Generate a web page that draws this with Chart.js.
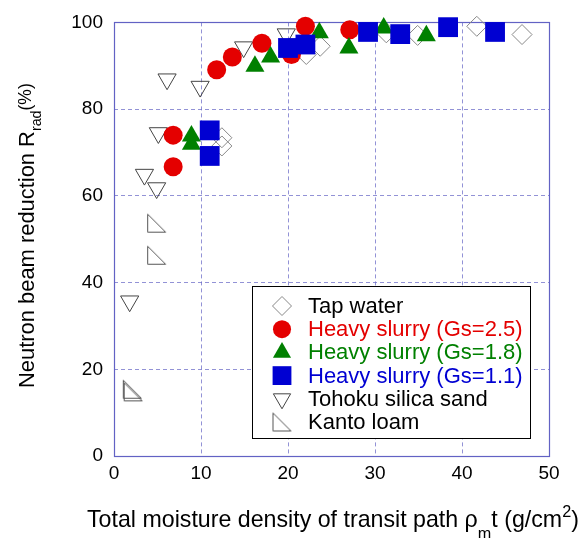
<!DOCTYPE html>
<html>
<head>
<meta charset="utf-8">
<script src="https://cdn.jsdelivr.net/npm/chart.js@4/dist/chart.umd.min.js"></script>
<style>
  body { margin: 0; background: #fff; }
  #wrap { width: 581px; height: 538px; }
</style>
</head>
<body>
<div id="wrap"><canvas id="rChart" width="581" height="538"></canvas></div>
<script>
// ===== Data =====
const seriesNames = ['Tap water', 'Heavy slurry (Gs=2.5)', 'Heavy slurry (Gs=1.8)', 'Heavy slurry (Gs=1.1)', 'Tohoku silica sand', 'Kanto loam'];

const tapX = [12.4, 12.4, 22.1, 23.7, 31.3, 34.9, 41.7, 46.9];
const tapY = [73.4, 71.5, 92.6, 94.5, 97.6, 97.0, 99.1, 97.2];

const gs25X = [6.8, 6.8, 11.8, 13.6, 17.0, 20.4, 22.0, 27.1];
const gs25Y = [74.0, 66.7, 89.1, 92.0, 95.2, 92.6, 99.1, 98.3];

const gs18X = [8.9, 8.9, 16.2, 18.0, 23.6, 27.0, 31.0, 35.9];
const gs18Y = [73.8, 71.9, 89.9, 92.0, 97.6, 94.1, 98.7, 96.9];

const gs11X = [11.0, 11.0, 20.0, 22.0, 29.2, 32.9, 38.4, 43.8];
const gs11Y = [75.1, 69.2, 94.1, 94.9, 97.8, 97.3, 98.9, 97.8];

const tohokuX = [1.8, 3.5, 4.9, 5.1, 6.1, 9.9, 14.9, 19.8];
const tohokuY = [35.7, 64.9, 61.8, 74.5, 86.9, 85.2, 94.3, 97.3];

const kantoX = [4.9, 4.9, 2.1, 2.2];
const kantoY = [53.7, 46.3, 15.4, 14.8];

const xTicks = [0, 10, 20, 30, 40, 50];
const yTicks = [0, 20, 40, 60, 80, 100];

const toPts = (xs, ys) => xs.map((x, i) => ({x: x, y: ys[i]}));

// right-angle triangle marker for Kanto loam
function rightTriangle(color){
    const c = document.createElement('canvas');
    c.width = 21; c.height = 21;
    const g = c.getContext('2d');
    g.strokeStyle = color;
    g.lineWidth = 1;
    g.beginPath();
    g.moveTo(1.5, 1.5); g.lineTo(1.5, 19.5); g.lineTo(19.5, 19.5); g.closePath();
    g.stroke();
    return c;
}

const RED = 'rgb(228,0,0)', GREEN = 'rgb(0,128,0)', BLUE = 'rgb(0,0,210)';

const datasets = [
    {label: seriesNames[0], data: toPts(tapX, tapY), pointStyle: 'rectRot', pointRadius: 10,
     backgroundColor: 'rgba(255,255,255,0)', borderColor: '#888', borderWidth: 1, order: 6, textColor: '#000'},
    {label: seriesNames[1], data: toPts(gs25X, gs25Y), pointStyle: 'circle', pointRadius: 9.5,
     backgroundColor: RED, borderColor: RED, borderWidth: 0, order: 3, textColor: RED},
    {label: seriesNames[2], data: toPts(gs18X, gs18Y), pointStyle: 'triangle', pointRadius: 11,
     backgroundColor: GREEN, borderColor: GREEN, borderWidth: 0, order: 2, textColor: GREEN},
    {label: seriesNames[3], data: toPts(gs11X, gs11Y), pointStyle: 'rect', pointRadius: 14,
     backgroundColor: BLUE, borderColor: BLUE, borderWidth: 0, order: 1, textColor: BLUE},
    {label: seriesNames[4], data: toPts(tohokuX, tohokuY), pointStyle: 'triangle', pointRotation: 180, pointRadius: 10.5,
     backgroundColor: 'rgba(255,255,255,0)', borderColor: '#444', borderWidth: 1, order: 5, textColor: '#000'},
    {label: seriesNames[5], data: toPts(kantoX, kantoY), pointStyle: rightTriangle('#555'), pointRadius: 10,
     backgroundColor: 'rgba(255,255,255,0)', borderColor: '#555', borderWidth: 1, order: 4, textColor: '#000'}
];
datasets.forEach(d => { d.showLine = false; d.clip = false; d.pointHoverRadius = d.pointRadius; });

// ===== Frame, legend and axis titles =====
const decor = {
    id: 'decor',
    beforeDatasetsDraw(chart){
        const a = chart.chartArea, ctx = chart.ctx;
        ctx.save();
        ctx.strokeStyle = '#6262c4';
        ctx.lineWidth = 1.2;
        ctx.strokeRect(Math.round(a.left) + 0.5, Math.round(a.top) + 0.5,
                       Math.round(a.right - a.left), Math.round(a.bottom - a.top));
        ctx.restore();
    },
    afterDraw(chart){
        const ctx = chart.ctx;
        ctx.save();

        // legend box
        const bx = 252, by = 286, bw = 278, bh = 152;
        ctx.fillStyle = '#fff';
        ctx.fillRect(bx, by, bw, bh);
        ctx.strokeStyle = '#000';
        ctx.lineWidth = 1;
        ctx.strokeRect(bx + 0.5, by + 0.5, bw, bh);
        ctx.font = '22px "Liberation Sans", Arial, sans-serif';
        ctx.textBaseline = 'middle';
        chart.data.datasets.forEach((d, i) => {
            const y = 306 + i * 23.2;
            ctx.fillStyle = d.backgroundColor;
            ctx.strokeStyle = d.borderColor;
            ctx.lineWidth = d.borderWidth;
            Chart.helpers.drawPoint(ctx, {
                pointStyle: d.pointStyle, rotation: d.pointRotation || 0,
                radius: d.pointRadius * 0.95, borderWidth: d.borderWidth
            }, 282, y);
            ctx.fillStyle = d.textColor;
            ctx.fillText(d.label, 308, y + 1);
        });

        // x title with sub/superscript
        const fam = '"Liberation Sans", Arial, sans-serif';
        const drawParts = (parts, fs, x0, y0) => {
            let x = x0;
            parts.forEach(p => {
                ctx.font = (fs * p.s) + 'px ' + fam;
                ctx.fillText(p.t, x, y0 + p.dy * fs);
                x += ctx.measureText(p.t).width;
            });
            return x - x0;
        };
        const measureParts = (parts, fs) => parts.reduce((w, p) => {
            ctx.font = (fs * p.s) + 'px ' + fam;
            return w + ctx.measureText(p.t).width;
        }, 0);

        ctx.fillStyle = '#000';
        ctx.textBaseline = 'alphabetic';
        const xParts = [
            {t: 'Total moisture density of transit path \u03C1', s: 1, dy: 0},
            {t: 'm', s: 0.7, dy: 0.5},
            {t: 't (g/cm', s: 1, dy: 0},
            {t: '2', s: 0.7, dy: -0.45},
            {t: ')', s: 1, dy: 0}
        ];
        let fs = 20 * 492 / measureParts(xParts, 20);
        drawParts(xParts, fs, 87, 527);

        // y title, rotated
        const yParts = [
            {t: 'Neutron beam reduction R', s: 1, dy: 0},
            {t: 'rad', s: 0.65, dy: 0.3},
            {t: '(%)', s: 0.8, dy: -0.12}
        ];
        fs = 20 * 305 / measureParts(yParts, 20);
        ctx.translate(34, 388);
        ctx.rotate(-Math.PI / 2);
        drawParts(yParts, fs, 0, 0);

        ctx.restore();
    }
};

// ===== Chart =====
const tickFont = {family: '"Liberation Sans", Arial, sans-serif', size: 19};
const gridStyle = {color: 'rgba(110,110,200,0.75)', lineWidth: 1, drawTicks: false};

const chart = new Chart(document.getElementById('rChart').getContext('2d'), {
    type: 'scatter',
    data: {datasets: datasets},
    options: {
        responsive: false,
        animation: false,
        devicePixelRatio: 1,
        layout: {padding: {left: 0, right: 32, top: 21, bottom: 0}},
        plugins: {legend: {display: false}, tooltip: {enabled: false}},
        scales: {
            x: {
                type: 'linear', min: 0, max: 50,
                afterBuildTicks: s => { s.ticks = xTicks.map(v => ({value: v})); },
                afterFit: s => { s.height = 82; },
                grid: gridStyle,
                border: {display: false, dash: [4, 3]},
                ticks: {font: tickFont, color: '#000', padding: 6, maxRotation: 0}
            },
            y: {
                type: 'linear', min: 0, max: 100,
                afterBuildTicks: s => { s.ticks = yTicks.map(v => ({value: v})); },
                afterFit: s => { s.width = 114; },
                grid: gridStyle,
                border: {display: false, dash: [4, 3]},
                ticks: {font: tickFont, color: '#000', padding: 11}
            }
        }
    },
    plugins: [decor]
});
</script>
</body>
</html>
